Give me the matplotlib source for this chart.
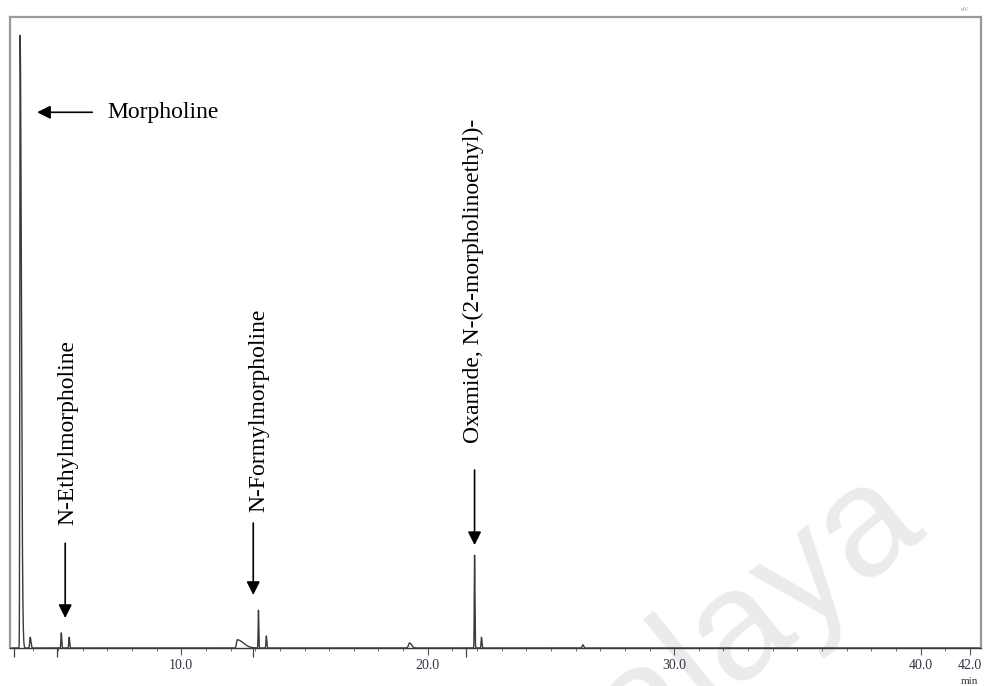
import numpy as np
import matplotlib.pyplot as plt

# peak table (retention time in min, relative height)
peak_rt = [3.46, 3.87, 5.13, 5.45, 12.27, 13.13, 13.45, 19.26, 21.90, 22.18, 26.30]
peak_height = [97.1, 1.7, 2.4, 1.7, 1.3, 6.0, 1.9, 0.8, 14.7, 1.7, 0.5]
peak_sigma_left = [0.012, 0.02, 0.015, 0.015, 0.03, 0.012, 0.015, 0.04, 0.012, 0.015, 0.03]
peak_sigma_right = [0.05, 0.03, 0.02, 0.02, 0.25, 0.015, 0.02, 0.08, 0.015, 0.02, 0.03]

# integration start marks below the baseline
mark_rt = [3.22, 4.97, 12.93, 21.57]

major_ticks = [10.0, 20.0, 30.0, 40.0, 42.0]
minor_ticks = list(range(4, 43))

labels = ['Morpholine', 'N-Ethylmorpholine', 'N-Formylmorpholine',
          'Oxamide, N-(2-morpholinoethyl)-']

t = np.linspace(3.05, 42.45, 20000)
signal = np.zeros_like(t)
for rt, h, sl, sr in zip(peak_rt, peak_height, peak_sigma_left, peak_sigma_right):
    s = np.where(t < rt, sl, sr)
    signal += h * np.exp(-0.5 * ((t - rt) / s) ** 2)

plt.rcParams['font.family'] = ['Liberation Serif', 'DejaVu Serif']

fig = plt.figure(figsize=(9.86, 6.86), dpi=100)

# faint watermark, drawn behind the axes
fig.text(900 / 986, 1 - 494 / 686, 'Malaya', rotation=39, ha='right', va='center',
         fontsize=112, color='#ebebeb', family='Liberation Sans',
         rotation_mode='anchor', zorder=0)

ax = fig.add_axes([10 / 986, 1 - 648 / 686, 971 / 986, 631 / 686])
ax.set_zorder(1)
ax.patch.set_alpha(0)

ax.plot(t, signal, color='#3a3a3a', lw=1.0)
ax.set_xlim(3.05, 42.45)
ax.set_ylim(0, 100)

for side in ['left', 'top', 'right']:
    ax.spines[side].set_color('#9a9a9a')
    ax.spines[side].set_linewidth(1.6)
ax.spines['bottom'].set_color('#3a3a3a')
ax.spines['bottom'].set_linewidth(1.0)

ax.set_yticks([])
ax.set_xticks(major_ticks)
ax.set_xticklabels(['%.1f' % v for v in major_ticks], fontsize=10, color='#333344')
ax.set_xticks(minor_ticks, minor=True)
ax.tick_params(axis='x', which='major', length=5, width=0.8, color='#555555', pad=3)
ax.tick_params(axis='x', which='minor', length=2.5, width=0.6, color='#555555')
ax.vlines(mark_rt, -0.015, 0, transform=ax.get_xaxis_transform(),
          color='#444444', lw=0.9, clip_on=False)

ax.text(42.0, -0.0525, 'min', transform=ax.get_xaxis_transform(),
        ha='center', va='center', fontsize=8, color='#333344')
fig.text(0.979, 0.99, 'uV', ha='center', va='top', fontsize=5, color='#8899aa')

arrow = dict(arrowstyle='-|>', color='black', lw=1.2, mutation_scale=20,
             shrinkA=0, shrinkB=0)

# Morpholine, horizontal arrow
ax.annotate('', xy=(4.15, 84.9), xytext=(6.39, 84.9), arrowprops=arrow)
ax.text(7.0, 84.9, labels[0], ha='left', va='center', fontsize=17)

# vertical labels with arrows pointing down to the peaks
ax.annotate('', xy=(5.29, 4.75), xytext=(5.29, 16.6), arrowprops=arrow)
ax.text(5.41, 19.5, labels[1], rotation=90, ha='center', va='bottom', fontsize=17)

ax.annotate('', xy=(12.92, 8.4), xytext=(12.92, 19.8), arrowprops=arrow)
ax.text(13.13, 21.5, labels[2], rotation=90, ha='center', va='bottom', fontsize=17)

ax.annotate('', xy=(21.9, 16.3), xytext=(21.9, 28.2), arrowprops=arrow)
ax.text(21.86, 32.5, labels[3], rotation=90, ha='center', va='bottom', fontsize=17)

fig.savefig('out.png', dpi=100)
